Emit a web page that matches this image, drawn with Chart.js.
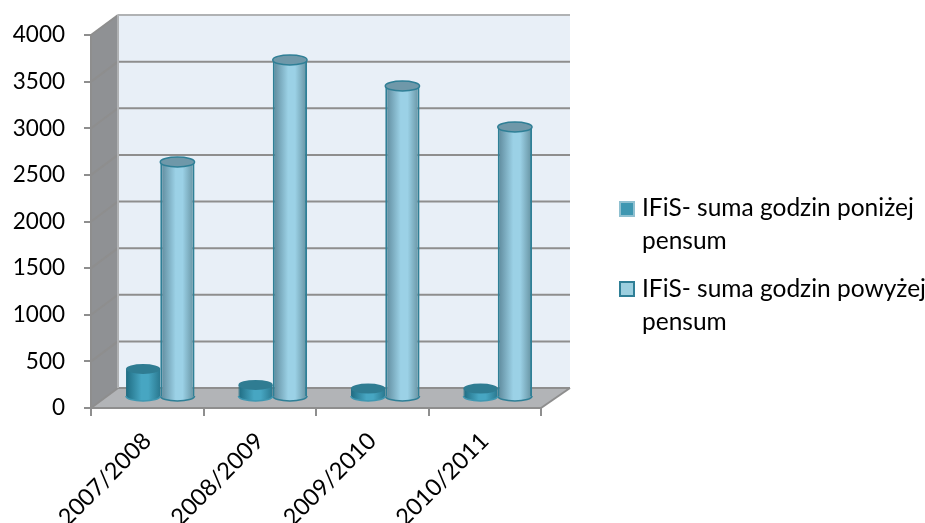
<!DOCTYPE html>
<html><head><meta charset="utf-8">
<style>html,body{margin:0;padding:0;background:#fff}canvas{display:block}</style>
<script src="https://cdn.jsdelivr.net/npm/chart.js@4"></script></head>
<body><canvas id="c" width="925" height="523"></canvas>
<script>
const categories = ["2007/2008","2008/2009","2009/2010","2010/2011"];
const seriesBelowName = "IFiS- suma godzin poniżej pensum";
const seriesAboveName = "IFiS- suma godzin powyżej pensum";
const seriesBelow = [300,130,90,90];
const seriesAbove = [2520,3615,3335,2895];

const FONT = "Lato, Carlito, sans-serif";
const DX = 27, DY = -20;
const BX = 13, BY = -11;
const RY = 5;
const GAP = 0.61;
const look = [
  {edgeL:"#1f6c82",mid:"#47a6c2",edgeR:"#2a788f",border:"#1f6c82",top:"#2f7c92",topBorder:null,bottomBorder:"#3f97b1"},
  {edgeL:"#5c8799",mid:"#9bd1e6",edgeR:"#64909f",border:"#2f7f96",top:"#6f98a9",topBorder:"#2f7f96",bottomBorder:"#2f7f96"}
];
function sideFill(c){
  const chart=c.chart, s=chart.scales.x, st=look[c.datasetIndex];
  if(!s||!chart.chartArea) return st.mid;
  const w=(s.width/categories.length)*GAP/2;
  const cx=s.getPixelForValue(c.dataIndex)+(c.datasetIndex===0?-w/2:w/2);
  const g=chart.ctx.createLinearGradient(cx-w/2,0,cx+w/2,0);
  g.addColorStop(0,st.edgeL);g.addColorStop(0.45,st.mid);g.addColorStop(0.65,st.mid);g.addColorStop(1,st.edgeR);
  return g;
}
const sideBorder = c=>look[c.datasetIndex].border;
const box3d = {
  id:"box3d",
  beforeDraw(chart){
    const {ctx,chartArea:a,scales:{y}}=chart;
    const L=a.left,R=a.right,T=a.top,B=a.bottom;
    ctx.save();
    ctx.fillStyle="#fff";ctx.fillRect(0,0,chart.width,chart.height);
    ctx.fillStyle="#e8eff7";ctx.fillRect(L+DX,T+DY,R-L+2,B-T);
    ctx.fillStyle="#8f9194";
    ctx.beginPath();ctx.moveTo(L,T);ctx.lineTo(L+DX,T+DY);ctx.lineTo(L+DX,B+DY);ctx.lineTo(L,B);ctx.closePath();ctx.fill();
    ctx.fillStyle="#b2b4b7";
    ctx.beginPath();ctx.moveTo(L,B);ctx.lineTo(L+DX,B+DY);ctx.lineTo(R+DX+2,B+DY);ctx.lineTo(R,B);ctx.closePath();ctx.fill();
    ctx.lineWidth=2;
    y.ticks.forEach(t=>{
      const p=y.getPixelForValue(t.value);
      ctx.strokeStyle=t.value===y.max?"#b0b2b4":"#8e8e8e";
      ctx.beginPath();ctx.moveTo(L+DX,p+DY);ctx.lineTo(R+DX+2,p+DY);ctx.stroke();
      ctx.strokeStyle="#8e8e8e";
      ctx.beginPath();ctx.moveTo(L,p);ctx.lineTo(L+DX,p+DY);ctx.stroke();
    });
    ctx.strokeStyle="#b0b2b4";
    ctx.beginPath();ctx.moveTo(L+DX,T+DY);ctx.lineTo(L+DX,B+DY);ctx.stroke();
    ctx.strokeStyle="#8e8e8e";
    ctx.beginPath();ctx.moveTo(R,B);ctx.lineTo(R+DX+2,B+DY);ctx.stroke();
    ctx.restore();
  },
  beforeDatasetDraw(chart,args){
    const ctx=chart.ctx;
    ctx.save();ctx.translate(BX,BY);
    const st=look[args.index];
    args.meta.data.forEach((bar,i)=>{
      const w=bar.width/2;
      ctx.beginPath();ctx.ellipse(bar.x,bar.base,w,RY,0,0,Math.PI);
      ctx.fillStyle=sideFill({chart,datasetIndex:args.index,dataIndex:i});ctx.fill();
      ctx.lineWidth=1.5;ctx.strokeStyle=st.bottomBorder;ctx.stroke();
    });
  },
  afterDatasetDraw(chart,args){
    const ctx=chart.ctx, st=look[args.index];
    args.meta.data.forEach(bar=>{
      ctx.beginPath();ctx.ellipse(bar.x,bar.y,bar.width/2,RY,0,0,Math.PI*2);
      ctx.fillStyle=st.top;ctx.fill();
      if(st.topBorder){ctx.lineWidth=1.5;ctx.strokeStyle=st.topBorder;ctx.stroke();}
    });
    ctx.restore();
  },
  afterDraw(chart){
    const ctx=chart.ctx;
    const rows=[{name:seriesBelowName,split:25,sw:202,base:[216,249],f:"#3f97b1",b:"#8fc0d0"},
                {name:seriesAboveName,split:25,sw:282,base:[297,330],f:"#9ccfdf",b:"#2f7f96"}];
    ctx.save();
    ctx.font="24.5px "+FONT;ctx.textAlign="left";ctx.textBaseline="alphabetic";
    rows.forEach(r=>{
      ctx.fillStyle=r.f;ctx.fillRect(620,r.sw,14,14);
      ctx.strokeStyle=r.b;ctx.lineWidth=2;ctx.strokeRect(620,r.sw,14,14);
      ctx.fillStyle="#000";
      ctx.fillText(r.name.slice(0,r.split),642,r.base[0]);
      ctx.fillText(r.name.slice(r.split+1),642,r.base[1]);
    });
    ctx.restore();
  }
};
const barStyle = {backgroundColor:sideFill,borderColor:sideBorder,borderSkipped:false,clip:false,categoryPercentage:GAP,barPercentage:1};
new Chart(document.getElementById("c"),{
  type:"bar",
  data:{labels:categories,datasets:[
    Object.assign({label:seriesBelowName,data:seriesBelow,borderWidth:{left:1,right:0,top:0,bottom:0}},barStyle),
    Object.assign({label:seriesAboveName,data:seriesAbove,borderWidth:{left:2,right:2,top:0,bottom:0}},barStyle)
  ]},
  options:{
    responsive:false,animation:false,
    layout:{padding:{left:0,right:384,top:35,bottom:0}},
    plugins:{legend:{display:false},tooltip:{enabled:false},colors:{enabled:false}},
    scales:{
      x:{
        afterFit(s){s.height=115;},
        border:{color:"#8e8e8e",width:2},
        grid:{offset:true,drawOnChartArea:false,drawTicks:true,tickLength:8,color:"#8e8e8e",lineWidth:2},
        ticks:{minRotation:45,maxRotation:45,color:"#000",padding:11,font:{family:FONT,size:23.5}}
      },
      y:{
        min:0,max:4000,
        afterFit(s){s.width=91;},
        border:{color:"#8e8e8e",width:2},
        grid:{drawOnChartArea:false,drawTicks:true,tickLength:7,color:"#8e8e8e",lineWidth:2},
        ticks:{stepSize:500,color:"#000",padding:19,font:{family:FONT,size:22.5},callback:v=>String(v)}
      }
    }
  },
  plugins:[box3d]
});
</script></body></html>
